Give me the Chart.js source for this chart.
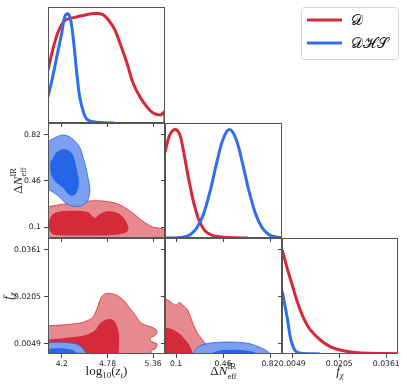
<!DOCTYPE html>
<html>
<head>
<meta charset="utf-8">
<script src="https://cdn.jsdelivr.net/npm/chart.js@4.4.1/dist/chart.umd.min.js"></script>
<style>
  html, body { margin: 0; padding: 0; background: #fff; }
  #wrap { position: relative; width: 407px; height: 387px; }
  #wrap canvas { position: absolute; left: 0; top: 0; }
</style>
</head>
<body>
<div id="wrap"></div>
<script>
// series
const seriesLabels = ['𝒟', '𝒟ℋ𝒮'];
const seriesColors = ['#d62838', '#2d6ff0'];

// axis limits and ticks
const zRange = [4.025, 5.51];
const nRange = [0.015, 0.912];
const fRange = [0.0015, 0.0400];
const zTicks = [4.2, 4.78, 5.36];
const nTicks = [0.1, 0.46, 0.82];
const fTicks = [0.0049, 0.0205, 0.0361];
const zTickLabels = ['4.2', '4.78', '5.36'];
const nTickLabels = ['0.1', '0.46', '0.82'];
const fTickLabels = ['0.0049', '0.0205', '0.0361'];

// 1D marginals (normalised to peak 1)
const zRedX = [4.025, 4.084, 4.148, 4.211, 4.262, 4.39, 4.53, 4.619, 4.721, 4.811, 4.874, 4.938, 5.027, 5.104, 5.193, 5.282, 5.359, 5.448, 5.486, 5.507, 5.507];
const zRedY = [0.484, 0.667, 0.822, 0.914, 0.946, 0.969, 0.992, 1.0, 0.99, 0.923, 0.85, 0.73, 0.548, 0.366, 0.238, 0.146, 0.091, 0.073, 0.091, 0.103, 0];
const zBlueX = [4.025, 4.084, 4.135, 4.199, 4.237, 4.275, 4.313, 4.352, 4.39, 4.428, 4.479, 4.53, 4.619, 4.747, 4.874];
const zBlueY = [0.238, 0.42, 0.60, 0.82, 0.97, 1.0, 0.94, 0.73, 0.457, 0.238, 0.09, 0.027, 0.01, 0.002, 0];

const nRedX = [0.015, 0.033, 0.056, 0.092, 0.126, 0.149, 0.177, 0.195, 0.216, 0.234, 0.255, 0.273, 0.293, 0.319, 0.342, 0.389, 0.448, 0.551, 0.652];
const nRedY = [0.79, 0.88, 0.96, 1.0, 0.96, 0.85, 0.67, 0.55, 0.43, 0.33, 0.24, 0.17, 0.12, 0.07, 0.046, 0.02, 0.01, 0.003, 0];
const nBlueX = [0.015, 0.11, 0.16, 0.21, 0.26, 0.31, 0.36, 0.41, 0.46, 0.51, 0.56, 0.61, 0.66, 0.71, 0.76, 0.81, 0.86, 0.912];
const nBlueY = [0, 0.0024, 0.0098, 0.033, 0.094, 0.22, 0.427, 0.685, 0.91, 1.0, 0.91, 0.685, 0.427, 0.22, 0.094, 0.033, 0.0098, 0.0022];

const fRedX = [0.0016, 0.00326, 0.0049, 0.00654, 0.0087, 0.0109, 0.0142, 0.0175, 0.0207, 0.0251, 0.0306, 0.0399];
const fRedY = [0.95, 0.78, 0.63, 0.48, 0.326, 0.22, 0.128, 0.067, 0.037, 0.016, 0.006, 0.003];
const fBlueX = [0.0016, 0.00326, 0.00434, 0.00542, 0.00654, 0.0087, 0.0142];
const fBlueY = [0.57, 0.326, 0.143, 0.052, 0.016, 0.005, 0];

// 2D contours (68% = dark, 95% = light), log10(z_t) vs dN
const znRed95X = [4.0, 4.025, 4.238, 4.493, 4.663, 4.834, 4.961, 5.089, 5.216, 5.3, 5.36, 5.43, 5.49, 5.56, 5.56, 4.0];
const znRed95Y = [0.255, 0.259, 0.28, 0.301, 0.306, 0.293, 0.267, 0.216, 0.151, 0.118, 0.1, 0.092, 0.085, 0.07, -0.02, -0.02];
const znRed68X = [4.047, 4.089, 4.196, 4.366, 4.535, 4.62, 4.685, 4.79, 4.918, 5.003, 5.045, 5.025, 4.918, 4.62, 4.238, 4.089, 4.047, 4.034];
const znRed68Y = [0.164, 0.203, 0.224, 0.228, 0.216, 0.172, 0.203, 0.224, 0.208, 0.156, 0.1, 0.061, 0.043, 0.035, 0.035, 0.043, 0.074, 0.126];
const znBlue95X = [4.0, 4.111, 4.196, 4.281, 4.366, 4.43, 4.472, 4.506, 4.536, 4.557, 4.549, 4.515, 4.451, 4.366, 4.281, 4.217, 4.153, 4.09, 4.039, 4.0];
const znBlue95Y = [0.758, 0.797, 0.817, 0.81, 0.771, 0.719, 0.642, 0.564, 0.474, 0.397, 0.345, 0.294, 0.268, 0.26, 0.275, 0.306, 0.345, 0.371, 0.389, 0.39];
const znBlue68X = [4.09, 4.132, 4.196, 4.281, 4.336, 4.366, 4.396, 4.417, 4.408, 4.366, 4.311, 4.26, 4.209, 4.132, 4.081, 4.056, 4.056];
const znBlue68Y = [0.642, 0.681, 0.706, 0.699, 0.668, 0.616, 0.539, 0.461, 0.397, 0.353, 0.345, 0.371, 0.41, 0.448, 0.487, 0.539, 0.603];

// log10(z_t) vs f_chi
const zfRed95X = [4.0, 4.238, 4.451, 4.579, 4.621, 4.663, 4.706, 4.77, 4.897, 4.982, 5.067, 5.131, 5.216, 5.344, 5.407, 5.386, 5.322, 5.335, 5.407, 5.386, 5.335, 5.344, 5.344, 4.0];
const zfRed95Y = [0.0108, 0.0112, 0.0119, 0.0133, 0.0149, 0.0177, 0.0205, 0.0216, 0.021, 0.0194, 0.0166, 0.0144, 0.0116, 0.0104, 0.0093, 0.0077, 0.0068, 0.0057, 0.0049, 0.0032, 0.0027, 0.001, -0.001, -0.001];
const zfRed68X = [4.0, 4.238, 4.493, 4.621, 4.685, 4.748, 4.834, 4.897, 4.927, 4.927, 4.92, 4.92, 4.0];
const zfRed68Y = [0.0063, 0.0068, 0.0077, 0.0093, 0.0116, 0.0127, 0.013, 0.011, 0.0077, 0.0043, 0.001, -0.001, -0.001];
const zfBlue95X = [4.0, 4.196, 4.366, 4.451, 4.502, 4.528, 4.53, 4.0];
const zfBlue95Y = [0.0052, 0.0054, 0.0049, 0.0038, 0.0021, 0.001, -0.001, -0.001];
const zfBlue68X = [4.0, 4.196, 4.324, 4.408, 4.43, 4.43, 4.0];
const zfBlue68Y = [0.0032, 0.0034, 0.0029, 0.0016, 0.001, -0.001, -0.001];

// dN vs f_chi
const nfRed95X = [-0.05, 0.0355, 0.074, 0.1, 0.126, 0.152, 0.19, 0.229, 0.267, 0.306, 0.332, 0.358, 0.365, -0.05];
const nfRed95Y = [0.0197, 0.0194, 0.0183, 0.0177, 0.0186, 0.0177, 0.016, 0.0116, 0.0082, 0.006, 0.0043, 0.0016, -0.001, -0.001];
const nfRed68X = [-0.05, 0.0094, 0.074, 0.126, 0.164, 0.203, 0.229, 0.235, -0.05];
const nfRed68Y = [0.0104, 0.0104, 0.0096, 0.0082, 0.0066, 0.0043, 0.0016, -0.001, -0.001];
const nfBlue95X = [0.229, 0.267, 0.332, 0.435, 0.564, 0.667, 0.77, 0.822, 0.84, 0.22];
const nfBlue95Y = [0.0016, 0.0038, 0.0049, 0.0054, 0.0054, 0.0049, 0.0032, 0.0016, -0.001, -0.001];
const nfBlue68X = [0.358, 0.435, 0.564, 0.667, 0.719, 0.73, 0.35];
const nfBlue68Y = [0.0016, 0.0027, 0.0029, 0.0024, 0.0016, -0.001, -0.001];

const redLight = '#e68a90', redDark = '#d42a3a';
const blueLight = '#7d9ff0', blueDark = '#2566e8';

const W = 407, H = 387;
const colX = [48, 165, 282, 398];
const rowY = [7, 123, 238, 354];
const wrap = document.getElementById('wrap');

const pts = (xs, ys) => xs.map((x, i) => ({x: x, y: ys[i]}));

function curve(xs, ys, i, order) {
  return {
    label: seriesLabels[i], data: pts(xs, ys), borderColor: seriesColors[i],
    borderWidth: 3, pointRadius: 0, tension: 0.35, fill: false, order: order
  };
}

function region(xs, ys, bg, edge, order) {
  const p = pts(xs, ys);
  p.push(p[0]);
  return {
    data: p, backgroundColor: bg, borderColor: edge || bg, borderWidth: edge ? 0.8 : 0,
    pointRadius: 0, tension: 0.3, fill: 'shape', order: order
  };
}

function axis(range, ticks, labels, show, pos) {
  const size = pos === 'bottom' ? (show ? 16 : 4) : (show ? 40 : 4);
  return {
    type: 'linear', position: pos, min: range[0], max: range[1], bounds: 'data',
    afterBuildTicks: s => { s.ticks = ticks.map(v => ({value: v})); },
    afterFit: s => {
      if (pos === 'bottom') s.height = size; else s.width = size;
      s.paddingLeft = s.paddingRight = s.paddingTop = s.paddingBottom = 0;
    },
    ticks: {
      autoSkip: false, maxRotation: 0, minRotation: 0, padding: pos === 'bottom' ? 1 : 3,
      color: '#222', font: {family: 'DejaVu Sans', size: 7.7},
      callback: (v, i) => show ? labels[i] : ''
    },
    grid: {drawOnChartArea: false, drawTicks: true, tickLength: 4, color: '#444', lineWidth: 1},
    border: {display: false}
  };
}

function drawRich(ctx, segs, cx, cy, rot) {
  ctx.save();
  ctx.translate(cx, cy);
  ctx.rotate(rot);
  ctx.textBaseline = 'alphabetic';
  ctx.textAlign = 'left';
  ctx.fillStyle = '#222';
  const fnt = p => (p.it ? 'italic ' : '') + (p.sz || 13) + 'px "Liberation Serif"';
  const widths = segs.map(s => Math.max(...(s.stack || [s]).map(p => {
    ctx.font = fnt(p);
    return ctx.measureText(p.t).width;
  })));
  let x = -widths.reduce((a, b) => a + b, 0) / 2;
  segs.forEach((s, i) => {
    (s.stack || [s]).forEach(p => {
      ctx.font = fnt(p);
      ctx.fillText(p.t, x, p.dy || 0);
    });
    x += widths[i];
  });
  ctx.restore();
}

const zTitle = [{t: 'log'}, {t: '10', sz: 9, dy: 3}, {t: '('}, {t: 'z', it: 1}, {t: 't', it: 1, sz: 9, dy: 3}, {t: ')'}];
const nTitle = [{t: 'Δ'}, {t: 'N', it: 1}, {stack: [{t: 'IR', sz: 8.5, dy: -6}, {t: 'eff', sz: 8.5, dy: 3.5}]}];
const fTitle = [{t: 'f', it: 1}, {t: 'χ', it: 1, sz: 9, dy: 3}];

const panelDeco = {
  id: 'panelDeco',
  afterDraw(chart, args, o) {
    const a = chart.chartArea, ctx = chart.ctx;
    ctx.save();
    ctx.strokeStyle = '#555';
    ctx.lineWidth = 1;
    ctx.strokeRect(a.left + 0.5, a.top + 0.5, a.right - a.left - 1, a.bottom - a.top - 1);
    ctx.restore();
    if (o.bottom) drawRich(ctx, o.bottom, (a.left + a.right) / 2, a.bottom + 21, 0);
    if (o.left) drawRich(ctx, o.left, a.left - o.leftGap, (a.top + a.bottom) / 2, -Math.PI / 2);
    if (o.legend) {
      const x0 = chart.width - 106, y0 = 7, w = 97, h = 52;
      ctx.save();
      ctx.beginPath();
      ctx.roundRect(x0 + 0.5, y0 + 0.5, w, h, 3);
      ctx.fillStyle = 'rgba(255,255,255,0.8)';
      ctx.fill();
      ctx.strokeStyle = '#d5d5d5';
      ctx.lineWidth = 1;
      ctx.stroke();
      chart.data.datasets.forEach((d, i) => {
        const y = y0 + 13 + i * 23;
        ctx.strokeStyle = d.borderColor;
        ctx.lineWidth = 3;
        ctx.beginPath();
        ctx.moveTo(x0 + 6, y);
        ctx.lineTo(x0 + 41, y);
        ctx.stroke();
        ctx.fillStyle = '#111';
        ctx.font = '15px "DejaVu Serif", serif';
        ctx.textBaseline = 'middle';
        ctx.fillText(d.label, x0 + 50, y + 1);
      });
      ctx.restore();
    }
  }
};

function panel(col, row, cfg) {
  const c = document.createElement('canvas');
  c.width = W; c.height = H;
  wrap.appendChild(c);
  const l = colX[col], r = colX[col + 1], t = rowY[row], b = rowY[row + 1];
  const scales = {x: axis(cfg.x[0], cfg.x[1], cfg.x[2], cfg.x[3], 'bottom')};
  let yw = 0;
  if (cfg.diag) {
    scales.y = {type: 'linear', min: 0, max: 1.06, display: false};
    if (cfg.yt) { scales.yt = axis(cfg.yt[0], cfg.yt[1], cfg.yt[2], false, 'left'); yw = 4; }
  } else {
    scales.y = axis(cfg.y[0], cfg.y[1], cfg.y[2], cfg.y[3], 'left');
    yw = cfg.y[3] ? 40 : 4;
  }
  const xh = cfg.x[3] ? 16 : 4;
  return new Chart(c, {
    type: 'line',
    data: {datasets: cfg.datasets},
    options: {
      responsive: false, animation: false, events: [],
      layout: {padding: {left: l - yw, right: W - r, top: t, bottom: H - b - xh}},
      scales: scales,
      plugins: {
        legend: {display: false}, tooltip: {enabled: false},
        panelDeco: {bottom: cfg.bottom, left: cfg.left, leftGap: cfg.leftGap, legend: cfg.legend}
      }
    },
    plugins: [panelDeco]
  });
}

// top: log10(z_t) marginal
panel(0, 0, {
  diag: true, legend: true,
  x: [zRange, zTicks, zTickLabels, false],
  datasets: [curve(zRedX, zRedY, 0, 2), curve(zBlueX, zBlueY, 1, 1)]
});

// row 2: z vs dN, dN marginal
panel(0, 1, {
  x: [zRange, zTicks, zTickLabels, false],
  y: [nRange, nTicks, nTickLabels, true],
  left: nTitle, leftGap: 26,
  datasets: [
    region(znRed95X, znRed95Y, redLight, redDark, 4),
    region(znRed68X, znRed68Y, redDark, null, 3),
    region(znBlue95X, znBlue95Y, blueLight, blueDark, 2),
    region(znBlue68X, znBlue68Y, blueDark, null, 1)
  ]
});
panel(1, 1, {
  diag: true,
  x: [nRange, nTicks, nTickLabels, false],
  yt: [nRange, nTicks, nTickLabels],
  datasets: [curve(nRedX, nRedY, 0, 2), curve(nBlueX, nBlueY, 1, 1)]
});

// row 3: z vs f, dN vs f, f marginal
panel(0, 2, {
  x: [zRange, zTicks, zTickLabels, true],
  y: [fRange, fTicks, fTickLabels, true],
  bottom: zTitle, left: fTitle, leftGap: 36,
  datasets: [
    region(zfRed95X, zfRed95Y, redLight, redDark, 4),
    region(zfRed68X, zfRed68Y, redDark, null, 3),
    region(zfBlue95X, zfBlue95Y, blueLight, blueDark, 2),
    region(zfBlue68X, zfBlue68Y, blueDark, null, 1)
  ]
});
panel(1, 2, {
  x: [nRange, nTicks, nTickLabels, true],
  y: [fRange, fTicks, fTickLabels, false],
  bottom: nTitle,
  datasets: [
    region(nfRed95X, nfRed95Y, redLight, redDark, 4),
    region(nfRed68X, nfRed68Y, redDark, null, 3),
    region(nfBlue95X, nfBlue95Y, blueLight, blueDark, 2),
    region(nfBlue68X, nfBlue68Y, blueDark, null, 1)
  ]
});
panel(2, 2, {
  diag: true,
  x: [fRange, fTicks, fTickLabels, true],
  yt: [fRange, fTicks, fTickLabels],
  bottom: fTitle,
  datasets: [curve(fRedX, fRedY, 0, 2), curve(fBlueX, fBlueY, 1, 1)]
});
</script>
</body>
</html>
